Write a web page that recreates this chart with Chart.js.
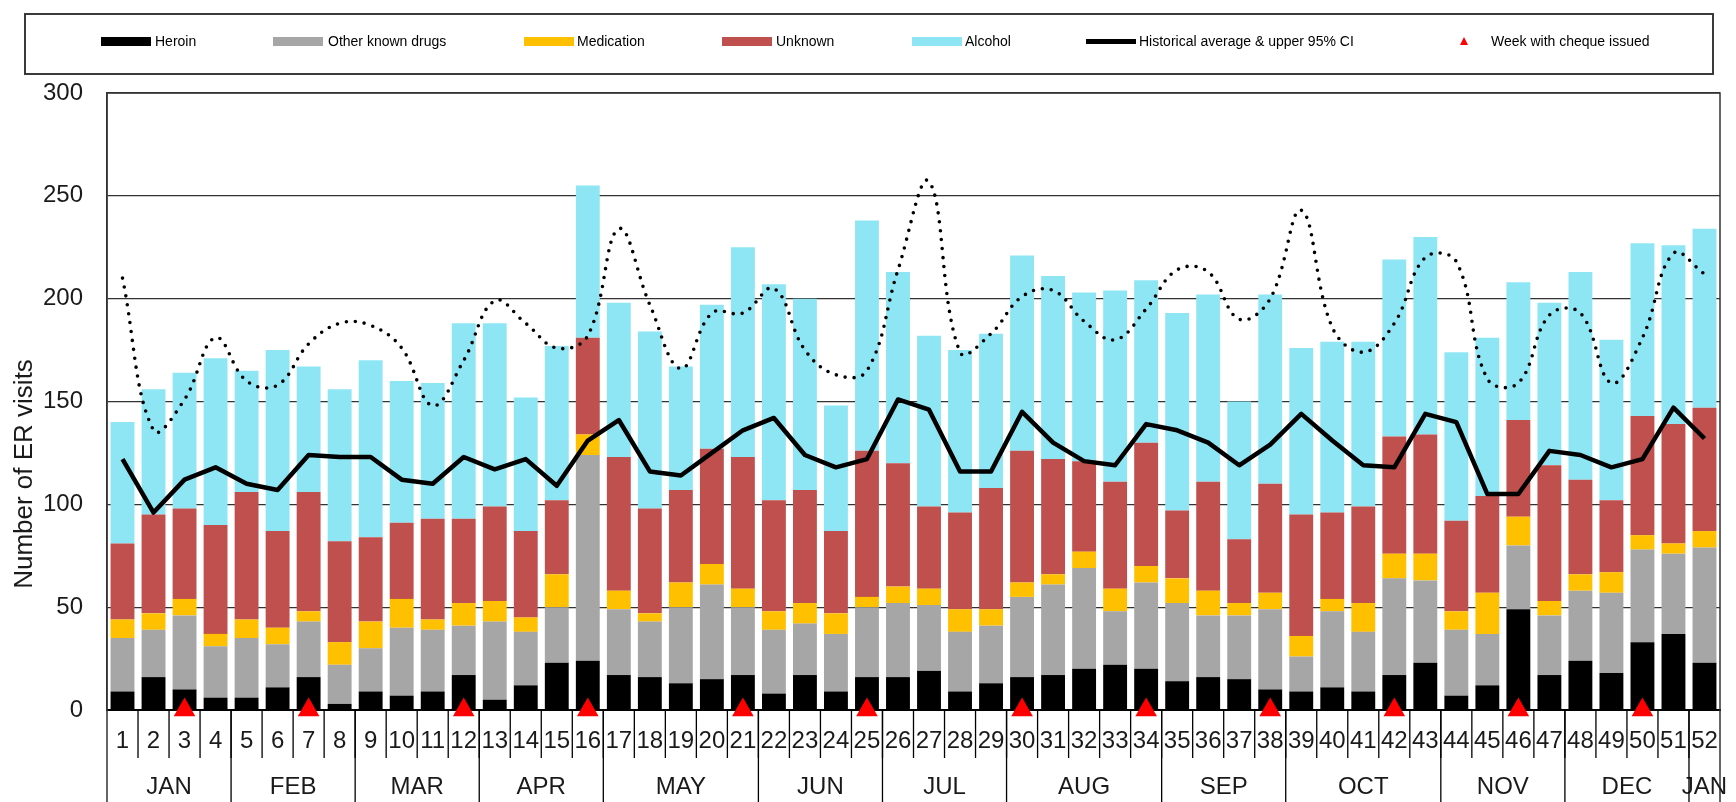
<!DOCTYPE html>
<html>
<head>
<meta charset="utf-8">
<script src="https://cdn.jsdelivr.net/npm/chart.js@4.4.1/dist/chart.umd.min.js"></script>
<style>
html,body{margin:0;padding:0;background:#fff;}
#wrap{position:relative;width:1736px;height:802px;overflow:hidden;font-family:"Liberation Sans",Arial,sans-serif;}
#c{position:absolute;left:0;top:0;}
#legendBox{position:absolute;left:24px;top:13px;width:1690px;height:62px;box-sizing:border-box;border:2px solid #3a3a3a;}
.sw{position:absolute;width:50px;height:9px;top:37px;}
.lt{position:absolute;top:33px;font-size:14px;line-height:16px;color:#000;white-space:nowrap;}
.tri{position:absolute;left:1460px;top:37px;width:0;height:0;border-left:4.5px solid transparent;border-right:4.5px solid transparent;border-bottom:8px solid #ff0000;}
</style>
</head>
<body>
<div id="wrap">
  <canvas id="c" width="1736" height="802"></canvas>
  <div id="legendBox"></div>
  <div class="sw" style="left:101px;background:#000000"></div><span class="lt" style="left:155px">Heroin</span>
  <div class="sw" style="left:273px;background:#a6a6a6"></div><span class="lt" style="left:328px">Other known drugs</span>
  <div class="sw" style="left:524px;background:#ffc000"></div><span class="lt" style="left:577px">Medication</span>
  <div class="sw" style="left:722px;background:#c0504d"></div><span class="lt" style="left:776px">Unknown</span>
  <div class="sw" style="left:912px;background:#8ee6f4"></div><span class="lt" style="left:965px">Alcohol</span>
  <div class="sw" style="left:1086px;top:39px;height:5px;background:#000"></div><span class="lt" style="left:1139px">Historical average &amp; upper 95% CI</span>
  <div class="tri"></div><span class="lt" style="left:1491px">Week with cheque issued</span>
</div>
<script>
const weeks = ['1','2','3','4','5','6','7','8','9','10','11','12','13','14','15','16','17','18','19','20','21','22','23','24','25','26','27','28','29','30','31','32','33','34','35','36','37','38','39','40','41','42','43','44','45','46','47','48','49','50','51','52'];
const months = ['JAN','FEB','MAR','APR','MAY','JUN','JUL','AUG','SEP','OCT','NOV','DEC','JAN'];
const monthWeekCounts = [4,4,4,4,5,4,4,5,4,5,4,4,1];

const heroin     = [9,16,10,6,6,11,16,3,9,7,9,17,5,12,23,24,17,16,13,15,17,8,17,9,16,16,19,9,13,16,17,20,22,20,14,16,15,10,9,11,9,17,23,7,12,49,17,24,18,33,37,23];
const otherDrugs = [26,23,36,25,29,21,27,19,21,33,30,24,38,26,27,100,32,27,37,46,33,31,25,28,34,36,32,29,28,39,44,49,26,42,38,30,31,39,17,37,29,47,40,32,25,31,29,34,39,45,39,56];
const medication = [9,8,8,6,9,8,5,11,13,14,5,11,10,7,16,10,9,4,12,10,9,9,10,10,5,8,8,11,8,7,5,8,11,8,12,12,6,8,10,6,14,12,13,9,20,14,7,8,10,7,5,8];
const unknown    = [37,48,44,53,62,47,58,49,41,37,49,41,46,42,36,47,65,51,45,56,64,54,55,40,71,60,40,47,59,64,56,44,52,60,33,53,31,53,59,42,47,57,58,44,47,47,66,46,35,58,58,60];
const alcohol    = [59,61,66,81,59,88,61,74,86,69,66,95,89,65,75,74,75,86,60,70,102,105,93,61,112,93,83,79,75,95,89,82,93,79,96,91,67,92,81,83,80,86,96,82,77,67,79,101,78,84,87,87];
const historicalAverage = [122,96,112,118,110,107,124,123,123,112,110,123,117,122,109,131,141,116,114,125,136,142,124,118,122,151,146,116,116,145,130,121,119,139,136,130,119,129,144,131,119,118,144,140,105,105,126,124,118,122,147,132];
const upper95CI  = [210,136,151,181,160,158,178,188,187,176,148,170,199,188,176,182,234,197,166,193,193,205,175,163,165,214,257,174,183,201,204,189,180,195,214,213,190,200,243,186,174,188,220,218,161,159,192,193,159,181,222,212];
const chequeWeeks = [3,7,12,16,21,25,30,34,38,42,46,50];

const FONT = '"Liberation Sans", Arial, sans-serif';
const TXT = '#1a1a1a';

const chequeMarks = weeks.map(w => chequeWeeks.includes(Number(w)) ? 0 : null);

const decorPlugin = {
  id: 'decor',
  afterDraw(chart) {
    const {ctx, chartArea: a, scales: {x}} = chart;
    const H = chart.height;
    const half = (x.getPixelForValue(1) - x.getPixelForValue(0)) / 2;
    ctx.save();
    ctx.strokeStyle = '#333';
    ctx.lineWidth = 1.5;
    ctx.beginPath();
    ctx.moveTo(a.left, a.top); ctx.lineTo(a.right, a.top); ctx.lineTo(a.right, H);
    ctx.moveTo(a.left, a.top); ctx.lineTo(a.left, H);
    ctx.stroke();
    ctx.strokeStyle = '#000';
    ctx.lineWidth = 1.3;
    ctx.beginPath();
    for (let i = 1; i < weeks.length; i++) {
      const px = x.getPixelForValue(i) - half;
      ctx.moveTo(px, a.bottom); ctx.lineTo(px, a.bottom + 48);
    }
    ctx.stroke();
    ctx.font = '24px ' + FONT;
    ctx.fillStyle = TXT;
    ctx.textAlign = 'center';
    ctx.textBaseline = 'middle';
    ctx.beginPath();
    let start = 0;
    monthWeekCounts.forEach((n, k) => {
      const l = x.getPixelForValue(start) - half;
      const r = x.getPixelForValue(start + n - 1) + half;
      ctx.fillText(months[k], (l + r) / 2, a.bottom + 77);
      if (start + n < weeks.length) { ctx.moveTo(r, a.bottom); ctx.lineTo(r, H); }
      start += n;
    });
    ctx.stroke();
    ctx.save();
    ctx.translate(25, 474);
    ctx.rotate(-Math.PI / 2);
    ctx.font = '26px ' + FONT;
    ctx.fillStyle = TXT;
    ctx.textAlign = 'center';
    ctx.textBaseline = 'middle';
    ctx.fillText('Number of ER visits', 0, 0);
    ctx.restore();
    ctx.restore();
  }
};

const barCommon = {type: 'bar', stack: 'bars', order: 2, barPercentage: 0.77, categoryPercentage: 1.0, borderWidth: 0};

new Chart(document.getElementById('c'), {
  type: 'bar',
  data: {
    labels: weeks,
    datasets: [
      {...barCommon, label: 'Heroin', data: heroin, backgroundColor: '#000000'},
      {...barCommon, label: 'Other known drugs', data: otherDrugs, backgroundColor: '#a6a6a6'},
      {...barCommon, label: 'Medication', data: medication, backgroundColor: '#ffc000'},
      {...barCommon, label: 'Unknown', data: unknown, backgroundColor: '#c0504d'},
      {...barCommon, label: 'Alcohol', data: alcohol, backgroundColor: '#8ee6f4'},
      {type: 'line', label: 'Historical average', data: historicalAverage, stack: 'avg', order: 1,
       borderColor: '#000', borderWidth: 4.5, pointRadius: 0, tension: 0, borderJoinStyle: 'round', fill: false},
      {type: 'line', label: 'Upper 95% CI', data: upper95CI, stack: 'ci', order: 1,
       borderColor: '#000', borderWidth: 3.6, borderDash: [0, 9], borderCapStyle: 'round',
       pointRadius: 0, tension: 0.4, fill: false},
      {type: 'line', label: 'Week with cheque issued', data: chequeMarks, stack: 'tri', order: 0,
       showLine: false, pointStyle: 'triangle', pointRadius: 12.5, pointBackgroundColor: '#ff0000',
       pointBorderWidth: 0, pointBorderColor: '#ff0000', clip: false}
    ]
  },
  options: {
    responsive: false,
    animation: false,
    events: [],
    layout: {padding: {top: 93, right: 16, bottom: 0, left: 0}},
    plugins: {legend: {display: false}, tooltip: {enabled: false}, title: {display: false}},
    scales: {
      x: {
        stacked: true,
        offset: true,
        grid: {display: true, drawOnChartArea: false, drawTicks: false},
        border: {display: true, color: '#000', width: 2},
        ticks: {font: {size: 24, family: FONT}, color: TXT, padding: 17, maxRotation: 0, autoSkip: false},
        afterFit(s) { s.height = 92; }
      },
      y: {
        stacked: true,
        min: 0, max: 300,
        grid: {color: '#333', lineWidth: 1.2, drawTicks: false},
        border: {display: true, color: '#333', width: 1.5},
        ticks: {stepSize: 50, font: {size: 24, family: FONT}, color: TXT, padding: 24},
        afterFit(s) { s.width = 107; }
      }
    }
  },
  plugins: [decorPlugin]
});
</script>
</body>
</html>
